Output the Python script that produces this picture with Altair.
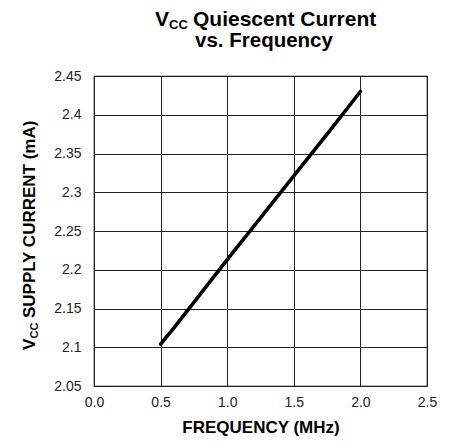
import altair as alt
import pandas as pd

# ---- data ----
freq_mhz = [0.5, 0.6, 0.75, 1.0, 1.25, 1.5, 1.75, 2.0]
supply_ma = [2.104, 2.125, 2.158, 2.213, 2.267, 2.321, 2.375, 2.430]
x_ticks = [0.0, 0.5, 1.0, 1.5, 2.0, 2.5]
y_ticks = [2.05, 2.1, 2.15, 2.2, 2.25, 2.3, 2.35, 2.4, 2.45]

title_main, title_sub, title_rest = "V", "CC", "Quiescent Current"
title_line2 = "vs. Frequency"
ytitle_main, ytitle_sub, ytitle_rest = "V", "CC", "SUPPLY CURRENT (mA)"
x_title = "FREQUENCY (MHz)"

FONT = "Liberation Sans"
W, H = 333, 310

df = pd.DataFrame({"f": freq_mhz, "i": supply_ma})

line = alt.Chart(df).mark_line(color="black", strokeWidth=3.6, strokeCap="round").encode(
    x=alt.X("f:Q",
            scale=alt.Scale(domain=[0, 2.5], nice=False, zero=False),
            axis=alt.Axis(values=x_ticks, format=".1f", title=x_title,
                          labelPadding=9, titlePadding=10)),
    y=alt.Y("i:Q",
            scale=alt.Scale(domain=[2.05, 2.45], nice=False, zero=False),
            axis=alt.Axis(values=y_ticks, format=".2~f", title=None,
                          labelPadding=13)),
)


def txt(s, x, y, size, angle=0, align="left"):
    return alt.Chart(alt.Data(values=[{"t": s}])).mark_text(
        font=FONT, fontWeight="bold", fontSize=size, align=align,
        baseline="alphabetic", angle=angle, color="black"
    ).encode(text="t:N", x=alt.value(x), y=alt.value(y))


texts = [
    txt(title_main, 61, -50, 21),
    txt(title_sub, 75, -47, 13),
    txt(title_rest, 99, -50, 21),
    txt(title_line2, 170, -29, 20.5, align="center"),
    txt(ytitle_main, -59, 274, 17, angle=270),
    txt(ytitle_sub, -56, 262.5, 11, angle=270),
    txt(ytitle_rest, -59, 242, 17, angle=270),
]

chart = alt.layer(line, *texts).properties(
    width=W, height=H,
    autosize=alt.AutoSizeParams(type="none"),
    padding={"left": 86, "top": 68, "right": 21, "bottom": 52},
).configure_view(
    stroke="black", strokeWidth=1.2
).configure_axis(
    grid=True, gridColor="#222", gridWidth=1, gridOpacity=1,
    domain=False, ticks=False,
    labelFont=FONT, labelFontSize=14, labelColor="#222",
    labelFlush=False, labelOverlap=False, labelBound=False,
    titleFont=FONT, titleFontSize=17, titleFontWeight="bold", titleColor="black",
)

chart.save("out.html", embed_options={"renderer": "svg", "actions": False})
